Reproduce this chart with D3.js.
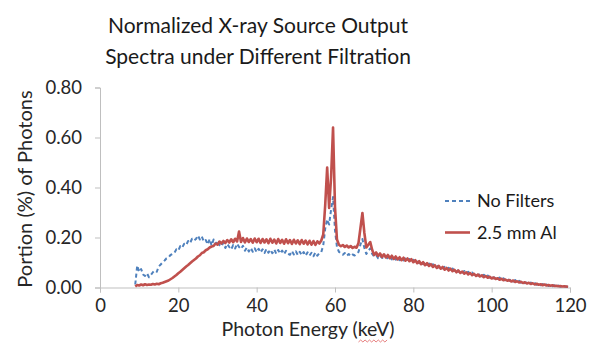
<!DOCTYPE html>
<html>
<head>
<meta charset="utf-8">
<script src="https://cdn.jsdelivr.net/npm/d3@7"></script>
<style>
  body { margin: 0; background: #fff; }
  svg { display: block; font-family: Lato, "Open Sans", sans-serif; }
</style>
</head>
<body>
<div class="chart"></div>
<script>
// DATA (0.5 keV sampling from 9 keV)
var energyStart = 9, energyStep = 0.5;

var noFilters = [
  0.012, 0.088, 0.062, 0.074, 0.052, 0.046, 0.057, 0.041, 0.050, 0.061,
  0.068, 0.063, 0.084, 0.092, 0.101, 0.108, 0.117, 0.121, 0.130, 0.134,
  0.139, 0.153, 0.148, 0.166, 0.160, 0.175, 0.170, 0.186, 0.178, 0.195,
  0.188, 0.194, 0.208, 0.192, 0.204, 0.184, 0.190, 0.172, 0.194, 0.168,
  0.192, 0.174, 0.187, 0.170, 0.164, 0.180, 0.158, 0.174, 0.162, 0.152,
  0.170, 0.156, 0.175, 0.162, 0.154, 0.167, 0.147, 0.160, 0.144, 0.158,
  0.143, 0.157, 0.141, 0.155, 0.140, 0.153, 0.138, 0.154, 0.139, 0.151,
  0.137, 0.152, 0.135, 0.150, 0.136, 0.148, 0.133, 0.147, 0.135, 0.131,
  0.146, 0.132, 0.145, 0.130, 0.143, 0.129, 0.142, 0.127, 0.141, 0.128,
  0.139, 0.125, 0.140, 0.127, 0.138, 0.142, 0.168, 0.236, 0.272, 0.252,
  0.312, 0.362, 0.228, 0.162, 0.143, 0.136, 0.131, 0.138, 0.127, 0.134,
  0.125, 0.132, 0.128, 0.136, 0.142, 0.172, 0.194, 0.158, 0.134, 0.146,
  0.157, 0.134, 0.124, 0.130, 0.117, 0.127, 0.119, 0.118, 0.126, 0.114,
  0.123, 0.112, 0.121, 0.111, 0.119, 0.109, 0.118, 0.108, 0.116, 0.106,
  0.114, 0.104, 0.111, 0.101, 0.107, 0.097, 0.103, 0.093, 0.099, 0.090,
  0.096, 0.087, 0.093, 0.084, 0.090, 0.080, 0.086, 0.077, 0.083, 0.073,
  0.079, 0.070, 0.076, 0.067, 0.073, 0.063, 0.069, 0.060, 0.066, 0.057,
  0.063, 0.054, 0.060, 0.051, 0.057, 0.048, 0.054, 0.045, 0.051, 0.043,
  0.048, 0.040, 0.046, 0.037, 0.043, 0.034, 0.040, 0.032, 0.037, 0.029,
  0.035, 0.027, 0.032, 0.024, 0.030, 0.022, 0.027, 0.019, 0.025, 0.017,
  0.022, 0.015, 0.020, 0.013, 0.018, 0.011, 0.016, 0.009, 0.014, 0.008,
  0.012, 0.006, 0.010, 0.005, 0.009, 0.004, 0.008, 0.003, 0.006, 0.003,
  0.004, 0.002
];

var aluminium = [
  0.004, 0.010, 0.008, 0.012, 0.009, 0.013, 0.010, 0.012, 0.011, 0.014,
  0.012, 0.015, 0.013, 0.017, 0.019, 0.022, 0.025, 0.028, 0.033, 0.038,
  0.044, 0.050, 0.057, 0.063, 0.070, 0.077, 0.084, 0.090, 0.097, 0.104,
  0.110, 0.116, 0.124, 0.129, 0.138, 0.141, 0.149, 0.153, 0.160, 0.164,
  0.166, 0.176, 0.171, 0.184, 0.176, 0.186, 0.178, 0.190, 0.180, 0.193,
  0.181, 0.195, 0.184, 0.224, 0.182, 0.198, 0.180, 0.196, 0.182, 0.194,
  0.179, 0.196, 0.181, 0.195, 0.178, 0.194, 0.180, 0.193, 0.177, 0.195,
  0.179, 0.192, 0.176, 0.194, 0.178, 0.191, 0.175, 0.193, 0.177, 0.190,
  0.174, 0.191, 0.176, 0.189, 0.173, 0.190, 0.175, 0.188, 0.172, 0.187,
  0.171, 0.186, 0.170, 0.185, 0.176, 0.188, 0.212, 0.330, 0.480, 0.318,
  0.440, 0.640, 0.322, 0.192, 0.171, 0.165, 0.170, 0.162, 0.168, 0.160,
  0.166, 0.158, 0.163, 0.159, 0.178, 0.238, 0.298, 0.218, 0.160, 0.171,
  0.182, 0.150, 0.130, 0.140, 0.126, 0.136, 0.122, 0.133, 0.120, 0.130,
  0.117, 0.127, 0.114, 0.124, 0.112, 0.121, 0.109, 0.119, 0.107, 0.116,
  0.105, 0.113, 0.101, 0.109, 0.097, 0.105, 0.093, 0.101, 0.089, 0.097,
  0.086, 0.093, 0.082, 0.089, 0.078, 0.086, 0.075, 0.082, 0.071, 0.078,
  0.068, 0.075, 0.065, 0.071, 0.061, 0.068, 0.058, 0.064, 0.055, 0.061,
  0.052, 0.058, 0.049, 0.055, 0.046, 0.052, 0.044, 0.049, 0.041, 0.046,
  0.039, 0.043, 0.036, 0.040, 0.034, 0.037, 0.031, 0.035, 0.029, 0.032,
  0.027, 0.030, 0.024, 0.028, 0.022, 0.025, 0.020, 0.023, 0.018, 0.021,
  0.016, 0.019, 0.014, 0.017, 0.012, 0.015, 0.011, 0.013, 0.009, 0.012,
  0.008, 0.010, 0.007, 0.009, 0.006, 0.007, 0.005, 0.006, 0.004, 0.005,
  0.004, 0.003
];

var xTicks = [0, 20, 40, 60, 80, 100, 120];
var yTicks = [0, 0.2, 0.4, 0.6, 0.8];
var seriesNames = ['No Filters', '2.5 mm Al'];
var titleLines = ['Normalized X-ray Source Output', 'Spectra under Different Filtration'];

///BOARD
var width = 603, height = 343;
var svg = d3.select('.chart').append('svg')
  .attr('width', width)
  .attr('height', height);

var x = d3.scaleLinear().domain([0, 120]).range([100, 570]);
var y = d3.scaleLinear().domain([0, 0.8]).range([287.5, 87.5]);

// title
svg.selectAll('.title')
  .data(titleLines)
  .enter()
  .append('text')
  .attr('class', 'title')
  .attr('x', 258)
  .attr('y', function(d, i) { return 33 + i * 31; })
  .attr('text-anchor', 'middle')
  .attr('font-size', 21)
  .attr('fill', '#1a1a1a')
  .text(function(d) { return d; });

// AXES
var xAxis = svg.append('g')
  .attr('transform', 'translate(0,287.5)')
  .call(d3.axisBottom(x).tickValues(xTicks).tickSize(5).tickFormat(d3.format('d')));
xAxis.selectAll('text').attr('dy', null).attr('y', 24);

var yAxis = svg.append('g')
  .attr('transform', 'translate(100,0)')
  .call(d3.axisLeft(y).tickValues(yTicks).tickSize(5).tickPadding(13).tickFormat(d3.format('.2f')));

[xAxis, yAxis].forEach(function(g) {
  g.select('.domain').attr('stroke', '#bfbfbf');
  g.selectAll('.tick line').attr('stroke', '#bfbfbf');
  g.selectAll('text').attr('font-size', 18.5).attr('fill', '#262626')
    .style('font-family', 'Lato, "Open Sans", sans-serif');
});

svg.append('text')
  .attr('transform', 'translate(32,189) rotate(-90)')
  .attr('text-anchor', 'middle')
  .attr('font-size', 20)
  .attr('fill', '#262626')
  .text('Portion (%) of Photons');

var xTitle = svg.append('text')
  .attr('x', 308)
  .attr('y', 336)
  .attr('text-anchor', 'middle')
  .attr('font-size', 19.5)
  .attr('fill', '#262626')
  .text('Photon Energy (keV)');

// spell-check squiggle under "keV"
var bb = xTitle.node().getBBox();
var sq = d3.range(0, 14).map(function(k) { return [bb.x + bb.width - 36 + k * 2.2, 341 + (k % 2 ? -1 : 1)]; });
svg.append('path')
  .attr('d', d3.line()(sq))
  .attr('fill', 'none')
  .attr('stroke', '#e06060')
  .attr('stroke-width', 0.8);

// LINES
var line = d3.line()
  .x(function(d, i) { return x(energyStart + i * energyStep); })
  .y(function(d) { return y(d); });

var seriesData = [noFilters, aluminium];
var colors = ['#4f81bd', '#c0504d'];
var widths = [2, 2.6];
var dashes = ['4,3', null];

svg.selectAll('.series')
  .data(seriesData)
  .enter()
  .append('path')
  .attr('class', 'series')
  .attr('d', line)
  .attr('fill', 'none')
  .attr('stroke', function(d, i) { return colors[i]; })
  .attr('stroke-width', function(d, i) { return widths[i]; })
  .attr('stroke-dasharray', function(d, i) { return dashes[i]; })
  .attr('stroke-linejoin', 'round');

// LEGEND
var legend = svg.selectAll('.legend')
  .data(seriesNames)
  .enter()
  .append('g')
  .attr('class', 'legend')
  .attr('transform', function(d, i) { return 'translate(445,' + (201 + i * 31.5) + ')'; });

legend.append('line')
  .attr('x1', 0).attr('x2', 25)
  .attr('stroke', function(d, i) { return colors[i]; })
  .attr('stroke-width', function(d, i) { return widths[i]; })
  .attr('stroke-dasharray', function(d, i) { return dashes[i]; });

legend.append('text')
  .attr('x', 32)
  .attr('y', 6)
  .attr('font-size', 18)
  .attr('fill', '#1a1a1a')
  .text(function(d) { return d; });
</script>
</body>
</html>
